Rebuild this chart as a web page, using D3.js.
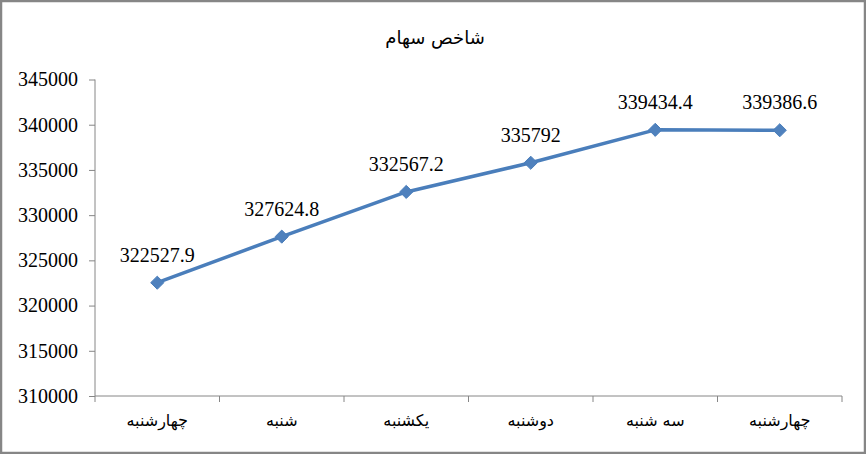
<!DOCTYPE html>
<html><head><meta charset="utf-8">
<script src="https://cdn.jsdelivr.net/npm/d3@7"></script>
<style>body{margin:0;background:#fff}svg{display:block}
.serif{font-family:"Liberation Serif","Times New Roman",serif}
.ar{font-family:"DejaVu Sans",sans-serif}
</style>
</head><body>
<svg id="c" width="866" height="454"></svg>
<script>
const title = "شاخص سهام";
const categories = ["چهارشنبه","شنبه","یکشنبه","دوشنبه","سه شنبه","چهارشنبه"];
const values = [322527.9, 327624.8, 332567.2, 335792, 339434.4, 339386.6];
const labels = ["322527.9","327624.8","332567.2","335792","339434.4","339386.6"];
const yTicks = [310000,315000,320000,325000,330000,335000,340000,345000];

const svg = d3.select("#c");
const W = 866, H = 454;
svg.append("rect").attr("x",1).attr("y",1).attr("width",W-2).attr("height",H-2)
  .attr("fill","#fff").attr("stroke","#868686").attr("stroke-width",2.5);

const m = {left:95, right:842, top:79.5, bottom:396};
const x = d3.scaleBand().domain(d3.range(categories.length)).range([m.left,m.right]);
const y = d3.scaleLinear().domain([310000,345000]).range([m.bottom,m.top]);

svg.append("text").attr("class","ar").attr("x",435).attr("y",44).attr("text-anchor","middle")
  .style("font-size","18px").attr("fill","#000").text(title);

const yAxis = svg.append("g").attr("transform",`translate(${m.left},0)`)
  .call(d3.axisLeft(y).tickValues(yTicks).tickSize(6).tickPadding(11).tickFormat(d3.format("d")));
yAxis.selectAll("path,line").attr("stroke","#868686");
yAxis.select(".domain").attr("d",`M0,${m.top}V${m.bottom}`);
yAxis.attr("font-family",null).attr("font-size",null);
yAxis.selectAll("text").attr("class","serif").style("font-size","20px").attr("fill","#000");

const xAxis = svg.append("g").attr("transform",`translate(0,${m.bottom})`)
  .call(d3.axisBottom(x).tickSize(0).tickFormat(i=>categories[i]).tickPadding(19));
xAxis.attr("font-family",null).attr("font-size",null);
xAxis.select(".domain").attr("stroke","#868686").attr("d",`M${m.left},0H${m.right}`);
xAxis.selectAll("text").attr("class","ar").style("font-size","16px").attr("fill","#000");
const bounds = d3.range(categories.length+1).map(i=> m.left + i*x.step());
svg.append("g").selectAll("line").data(bounds).join("line")
  .attr("x1",d=>d).attr("x2",d=>d).attr("y1",m.bottom).attr("y2",m.bottom+6)
  .attr("stroke","#868686");

const cx = i => x(i) + x.bandwidth()/2;
svg.append("path").datum(values)
  .attr("d", d3.line().x((d,i)=>cx(i)).y(d=>y(d)))
  .attr("fill","none").attr("stroke","#4A7EBB").attr("stroke-width",3.5).attr("stroke-linejoin","round");

svg.append("g").selectAll("path").data(values).join("path")
  .attr("transform",(d,i)=>`translate(${cx(i)},${y(d)})`)
  .attr("d", d3.symbol(d3.symbolDiamond2, 110)())
  .attr("fill","#4F81BD").attr("stroke","#4A7EBB").attr("stroke-width",1);

svg.append("g").selectAll("text").data(values).join("text")
  .attr("class","serif")
  .attr("x",(d,i)=>cx(i)).attr("y",d=>y(d)-21).attr("text-anchor","middle")
  .style("font-size","20px").attr("fill","#000")
  .text((d,i)=>labels[i]);
</script>
</body></html>
